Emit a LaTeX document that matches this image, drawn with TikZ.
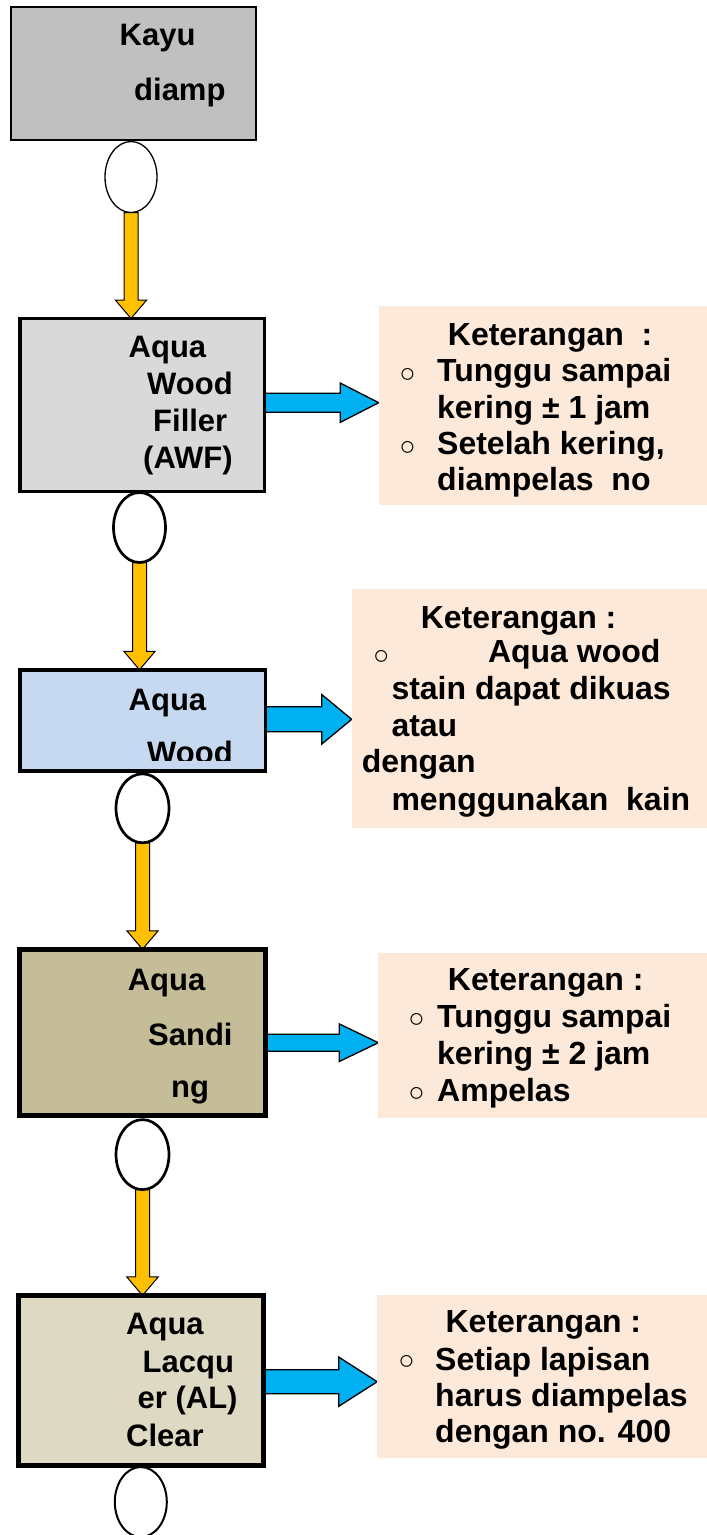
\documentclass[tikz,border=0pt]{standalone}
\usepackage{fontspec}
\setmainfont{Liberation Sans}
\usetikzlibrary{shapes.geometric,calc}
\definecolor{notec}{RGB}{253,233,217}
\definecolor{grayA}{RGB}{192,192,192}
\definecolor{grayB}{RGB}{217,217,217}
\definecolor{blueBox}{RGB}{198,217,240}
\definecolor{olive}{RGB}{196,189,151}
\definecolor{beige}{RGB}{221,217,195}
\definecolor{arrBlue}{RGB}{0,176,240}
\definecolor{arrYel}{RGB}{255,192,0}
\pgfdeclarelayer{bg}
\pgfsetlayers{bg,main}
\newcommand\yarr[2]{%
  \draw[yarrow] let \p1=(#1.south), \p2=(#2.north) in
    (\x1-7pt,\y1) -- (\x1-7pt,\y2+18.5pt) -- (\x1-15.7pt,\y2+18.5pt) -- (\x1,\y2)
    -- (\x1+15.7pt,\y2+18.5pt) -- (\x1+7pt,\y2+18.5pt) -- (\x1+7pt,\y1) -- cycle;}
\newcommand\barr[6]{%
  \draw[barrow] let \p1=(#1.east), \p2=(#2.west) in
    (\x1,-#3pt+#4pt) -- (\x2-#6pt,-#3pt+#4pt) -- (\x2-#6pt,-#3pt+#5pt) -- (\x2,-#3pt)
    -- (\x2-#6pt,-#3pt-#5pt) -- (\x2-#6pt,-#3pt-#4pt) -- (\x1,-#3pt-#4pt) -- cycle;}
\begin{document}
\begin{tikzpicture}[x=1pt,y=-1pt,
  box/.style={draw=black, inner sep=0pt, outer sep=0pt},
  note/.style={fill=notec, inner sep=0pt, outer sep=0pt},
  oval/.style={ellipse, draw=black, fill=white, inner sep=0pt, outer sep=0pt},
  txt/.style={anchor=base west, inner sep=0pt, font=\bfseries\fontsize{31}{37}\selectfont},
  ntxt/.style={anchor=base west, inner sep=0pt, font=\bfseries\fontsize{32}{37}\selectfont},
  bul/.style={anchor=center, inner sep=0pt, font=\fontsize{27}{27}\selectfont},
  yarrow/.style={fill=arrYel, draw=black, line width=1pt, line join=miter},
  barrow/.style={fill=arrBlue, draw=black, line width=1.3pt, line join=miter}]
\useasboundingbox (0,0) rectangle (707,1535);

% boxes
\node[box, fill=grayA, line width=2pt, minimum width=245pt, minimum height=133pt] (b1) at (133.5,73.5) {};
\node[box, fill=grayB, line width=3.5pt, minimum width=244.5pt, minimum height=173pt] (b2) at (142,405) {};
\node[box, fill=blueBox, line width=3.5pt, minimum width=245.5pt, minimum height=101pt] (b3) at (142.5,720.3) {};
\node[box, fill=olive, line width=5pt, minimum width=246pt, minimum height=166.5pt] (b4) at (142.5,1032.5) {};
\node[box, fill=beige, line width=5pt, minimum width=245pt, minimum height=169.7pt] (b5) at (141,1380.3) {};

% notes
\node[note, minimum width=328.3pt, minimum height=199pt] (n2) at (542.85,405.5) {};
\node[note, minimum width=355.3pt, minimum height=239.3pt] (n3) at (529.35,708.65) {};
\node[note, minimum width=328.7pt, minimum height=164.7pt] (n4) at (542.65,1035.65) {};
\node[note, minimum width=329.8pt, minimum height=163.2pt] (n5) at (542.1,1376.4) {};

% ovals
\node[oval, line width=1.3pt, minimum width=52pt, minimum height=71pt] (e1) at (131,177) {};
\node[oval, line width=2.7pt, minimum width=52pt, minimum height=70pt] (e2) at (139.5,527.5) {};
\node[oval, line width=2.7pt, minimum width=53pt, minimum height=69pt] (e3) at (142.5,808.3) {};
\node[oval, line width=2.7pt, minimum width=53pt, minimum height=70pt] (e4) at (142.5,1154.6) {};
\node[oval, line width=2pt, minimum width=52pt, minimum height=70pt] (e5) at (140.8,1502) {};

% connectors
\begin{pgfonlayer}{bg}
\yarr{e1}{b2}
\yarr{e2}{b3}
\yarr{e3}{b4}
\yarr{e4}{b5}
\barr{b2}{n2}{402.7}{9.5}{19.7}{38.5}
\barr{b3}{n3}{719.3}{12.5}{24.8}{30}
\barr{b4}{n4}{1042.7}{8.5}{18.8}{39}
\barr{b5}{n5}{1381.7}{12}{24.6}{38.4}
\end{pgfonlayer}

% box texts
\node[txt] (t1a) at (119.5,45.7) {Kayu};
\node[txt] (t1b) at (134,100) {diamp};
\node[txt] (t2a) at (128.5,357.7) {Aqua};
\node[txt] (t2b) at (147,394.3) {Wood};
\node[txt] (t2c) at (153,431.7) {Filler};
\node[txt] (t2d) at (143,468.3) {(AWF)};
\node[txt] (t3a) at (128.5,710) {Aqua};
\begin{scope}
\clip (18,668) rectangle (267,760);
\node[txt] (t3b) at (147,763) {Wood};
\end{scope}
\node[txt] (t4a) at (127.6,990.5) {Aqua};
\node[txt] (t4b) at (148,1045) {Sandi};
\begin{scope}
\clip (17,947) rectangle (268,1104);
\node[txt] (t4c) at (171,1097) {ng};
\end{scope}
\node[txt] (t5a) at (126,1334.7) {Aqua};
\node[txt] (t5b) at (142.5,1372.6) {Lacqu};
\node[txt] (t5c) at (137.5,1408.7) {er (AL)};
\node[txt] (t5d) at (126,1446.6) {Clear};

% note 2
\node[ntxt] (k2) at (447.7,345) {Keterangan\ \ :};
\node[bul] (p2a) at (407.5,375) {○};
\node[ntxt] (l2a) at (437,381) {Tunggu sampai};
\node[ntxt] (l2b) at (437,418.3) {kering ± 1 jam};
\node[bul] (p2b) at (407.5,448) {○};
\node[ntxt] (l2c) at (437,454.3) {Setelah kering,};
\node[ntxt] (l2d) at (437,490.7) {diampelas\ \ no};

% note 3
\node[ntxt] (k3) at (420.6,628.3) {Keterangan :};
\node[bul] (p3a) at (381.3,657.3) {○};
\node[ntxt] (l3a) at (487.8,662.7) {Aqua wood};
\node[ntxt] (l3b) at (391.3,699.3) {stain dapat dikuas};
\node[ntxt] (l3c) at (391.3,736) {atau};
\node[ntxt] (l3d) at (361.6,772.7) {dengan};
\node[ntxt] (l3e) at (391.3,810) {menggunakan\ \ kain};

% note 4
\node[ntxt] (k4) at (447.7,990.5) {Keterangan :};
\node[bul] (p4a) at (416.5,1020.5) {○};
\node[ntxt] (l4a) at (437,1027.3) {Tunggu sampai};
\node[ntxt] (l4b) at (437,1064.5) {kering ± 2 jam};
\node[bul] (p4b) at (416.5,1094.8) {○};
\node[ntxt] (l4c) at (437,1101.3) {Ampelas};

% note 5
\node[ntxt] (k5) at (445.4,1332.8) {Keterangan :};
\node[bul] (p5a) at (406.5,1362.4) {○};
\node[ntxt] (l5a) at (435,1370) {Setiap lapisan};
\node[ntxt] (l5b) at (435,1406) {harus diampelas};
\node[ntxt] (l5c) at (435,1442.9) {dengan no. 400};
\end{tikzpicture}
\end{document}
